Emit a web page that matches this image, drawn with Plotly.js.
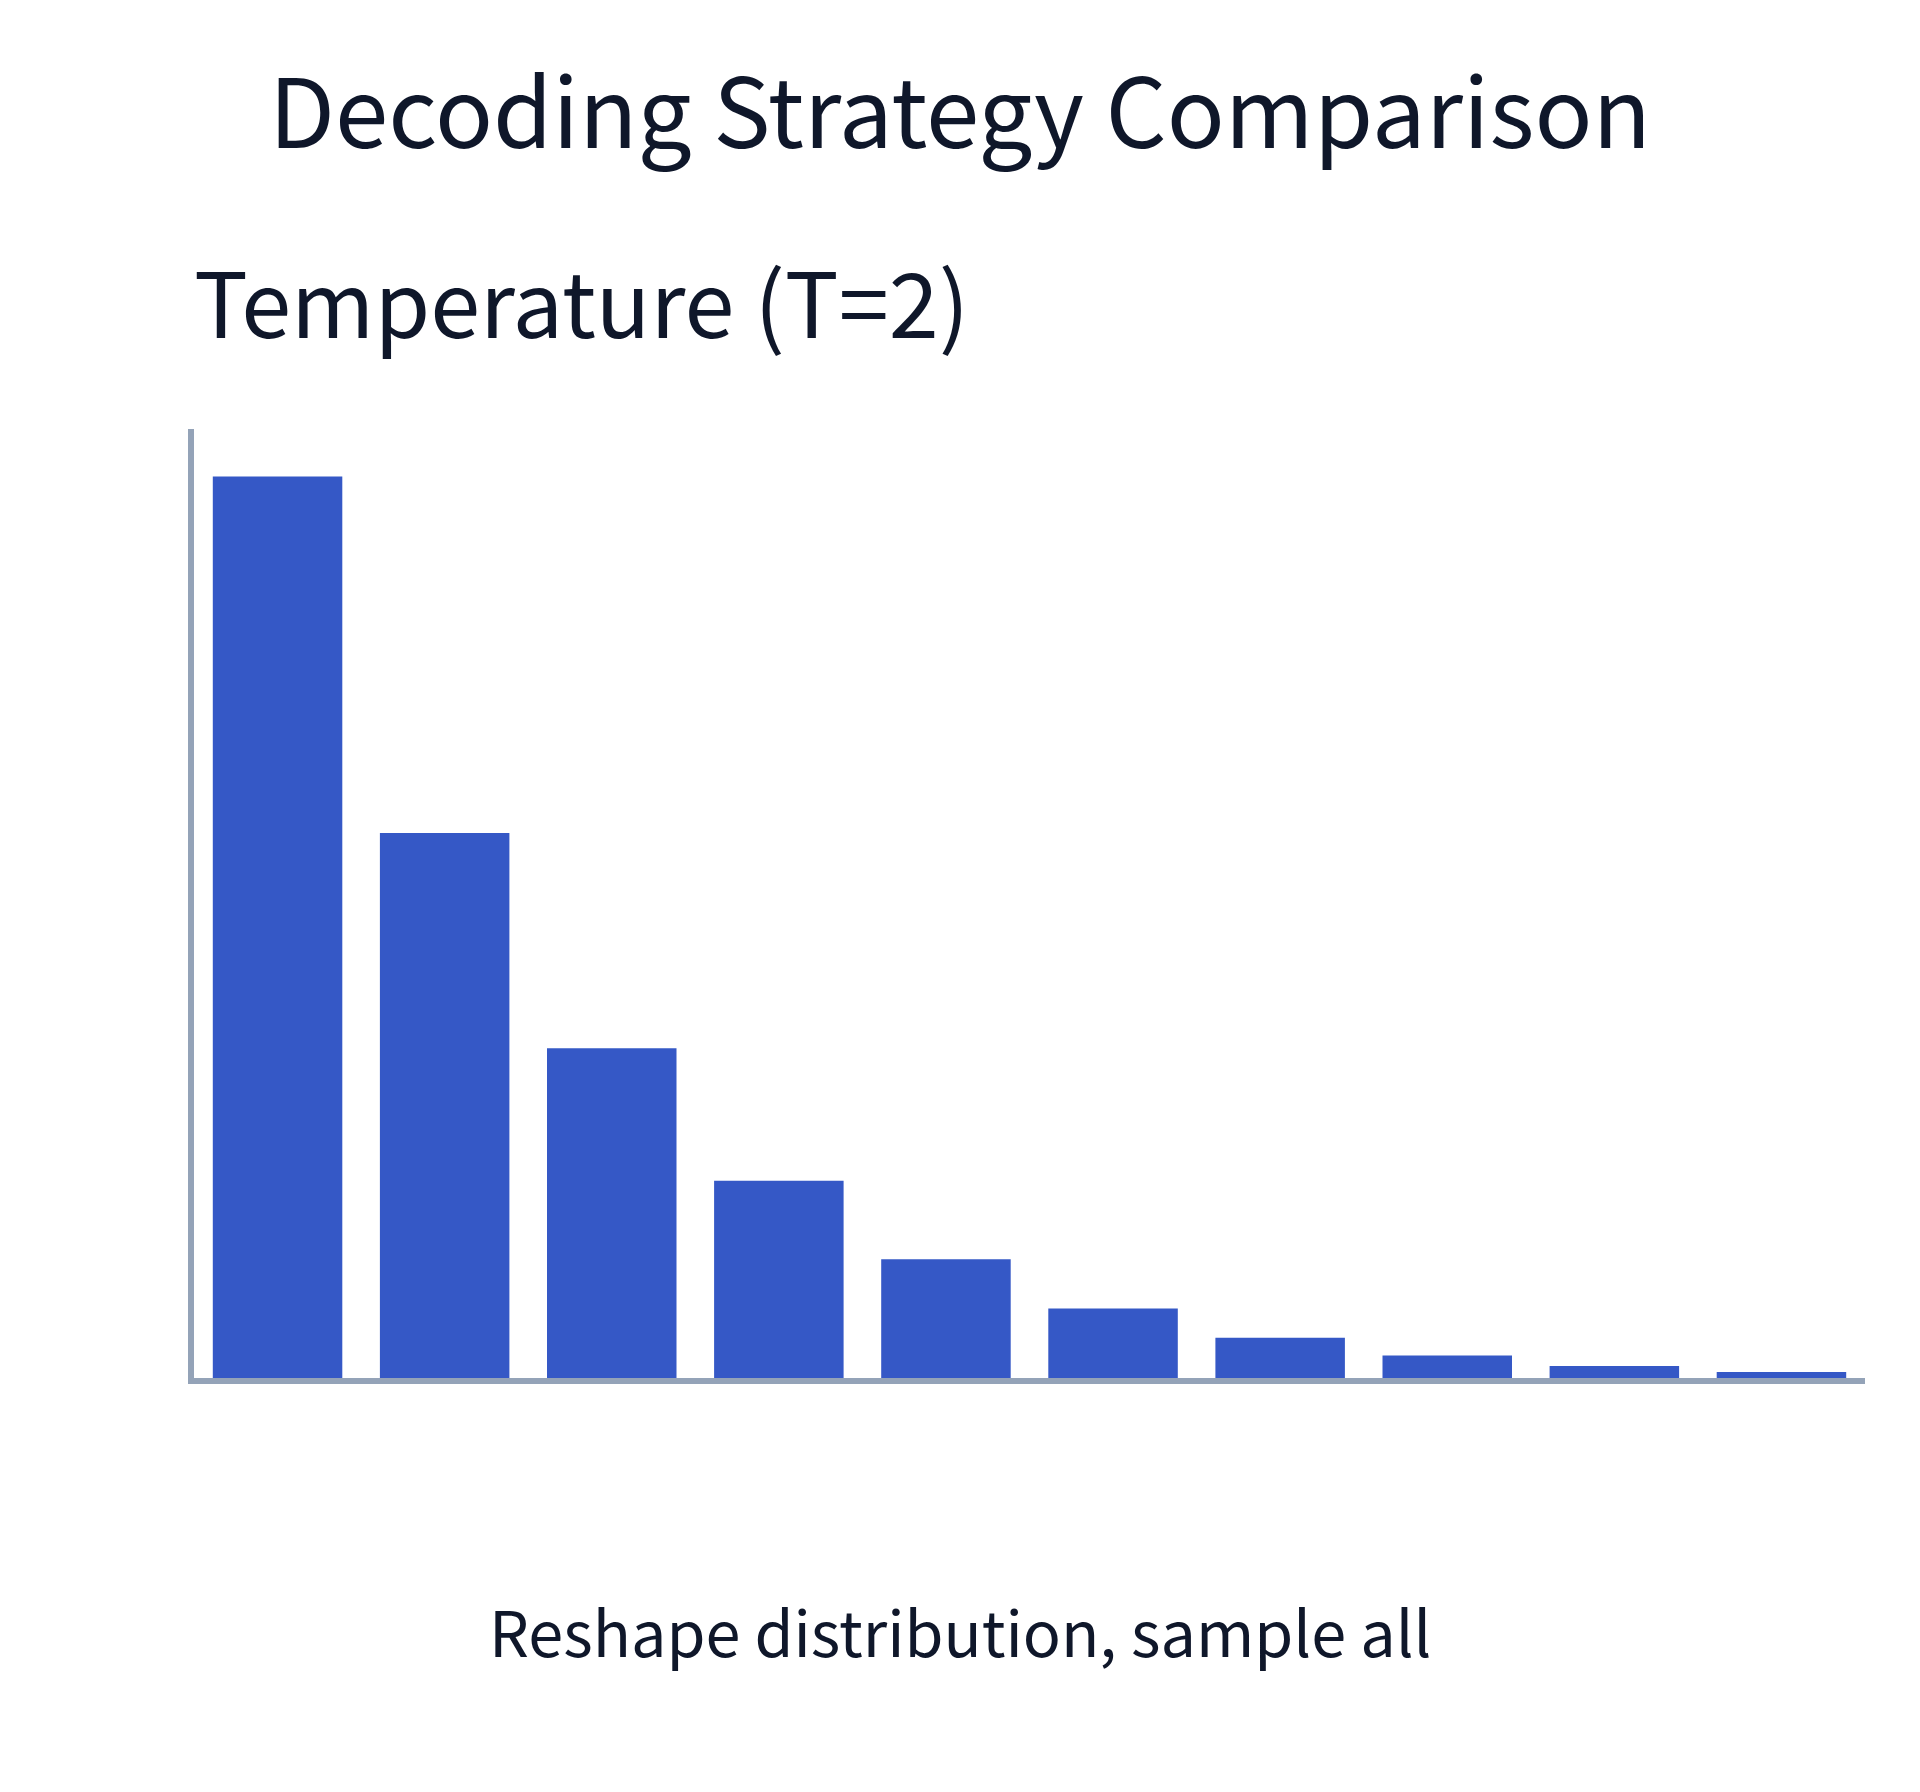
<!DOCTYPE html>
<html>
<head>
<meta charset="utf-8">
<script src="https://cdn.plot.ly/plotly-3.0.1.min.js"></script>
<style>
  html, body { margin: 0; padding: 0; background: #ffffff; }
  #chart { width: 1920px; height: 1792px; }
</style>
</head>
<body>
<div id="chart"></div>
<script>
// Data
const tokens = ["t1", "t2", "t3", "t4", "t5", "t6", "t7", "t8", "t9", "t10"];
const probabilities = [0.402, 0.243, 0.147, 0.088, 0.053, 0.031, 0.018, 0.010, 0.0054, 0.0027];

const mainTitle = "Decoding Strategy Comparison";
const panelTitle = "Temperature (T=2)";
const caption = "Reshape distribution, sample all";

const textColor = "#0f172a";
const barColor = "#3558c6";
const axisColor = "#94a3b8";
const fontFamily = "'Noto Sans CJK KR', 'Noto Sans', sans-serif";

const trace = {
  type: "bar",
  x: tokens,
  y: probabilities,
  marker: { color: barColor, line: { width: 0 } },
  hoverinfo: "none"
};

const layout = {
  width: 1920,
  height: 1792,
  margin: { l: 194, r: 55, t: 429, b: 414, pad: 0 },
  paper_bgcolor: "#ffffff",
  plot_bgcolor: "#ffffff",
  showlegend: false,
  bargap: 0.225,
  font: { family: fontFamily, color: textColor },
  xaxis: {
    type: "category",
    showline: true,
    linecolor: axisColor,
    linewidth: 6,
    showgrid: false,
    zeroline: false,
    showticklabels: false,
    ticks: ""
  },
  yaxis: {
    showline: true,
    linecolor: axisColor,
    linewidth: 6,
    showgrid: false,
    zeroline: false,
    showticklabels: false,
    ticks: "",
    rangemode: "tozero"
  },
  annotations: [
    {
      text: mainTitle,
      xref: "paper", yref: "paper",
      x: 0.4587, y: 1.340,
      xanchor: "center", yanchor: "middle",
      showarrow: false,
      font: { family: fontFamily, size: 96, color: textColor }
    },
    {
      text: panelTitle,
      xref: "paper", yref: "paper",
      x: -0.0012, y: 1.137,
      xanchor: "left", yanchor: "middle",
      showarrow: false,
      font: { family: fontFamily, size: 90, color: textColor }
    },
    {
      text: caption,
      xref: "paper", yref: "paper",
      x: 0.4587, y: -0.265,
      xanchor: "center", yanchor: "middle",
      showarrow: false,
      font: { family: fontFamily, size: 63, color: textColor }
    }
  ]
};

Plotly.newPlot("chart", [trace], layout, { staticPlot: true, displayModeBar: false });
</script>
</body>
</html>
